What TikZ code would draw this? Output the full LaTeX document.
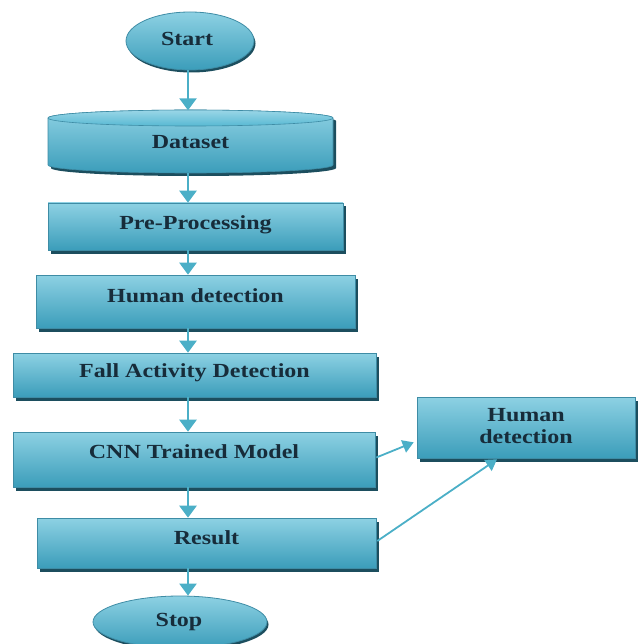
\documentclass[tikz,border=0pt]{standalone}
\usepackage{fontspec}
\setmainfont{Liberation Serif}[FakeStretch=1.2]
\usetikzlibrary{arrows.meta,shapes.geometric,shadows,calc}
\definecolor{arrowc}{HTML}{4BAFC7}
\definecolor{boxtop}{HTML}{8DD1E3}
\definecolor{boxmid}{HTML}{58B9D3}
\definecolor{boxbot}{HTML}{3B9DBA}
\definecolor{edgec}{HTML}{3E8CA5}
\definecolor{shadowc}{HTML}{1C4E5E}
\definecolor{textc}{HTML}{172C3A}
\definecolor{captop}{HTML}{9AD6E7}
\begin{document}
\begin{tikzpicture}[x=1pt,y=-1pt,
  box/.style={rectangle, draw=edgec, line width=0.6pt, top color=boxtop, middle color=boxmid, bottom color=boxbot,
    general shadow={fill=shadowc, shadow xshift=3pt, shadow yshift=-3.5pt}, inner sep=0pt},
  oval/.style={ellipse, draw=edgec, line width=0.8pt, top color=boxtop, middle color=boxmid, bottom color=boxbot,
    general shadow={fill=shadowc, shadow xshift=1.5pt, shadow yshift=-2.5pt}, inner sep=0pt},
  txt/.style={font=\bfseries\fontsize{20}{22}\selectfont, text=textc, align=center},
  arr/.style={draw=arrowc, line width=2.5pt, -{Triangle[length=12pt,width=17pt]}},
  sarr/.style={draw=arrowc, line width=1.8pt, -{Triangle[length=11pt,width=13pt]}},
]
\useasboundingbox (0,0) rectangle (638,644);
\coordinate (col) at (188,0);

% Start
\node[oval, minimum width=128pt, minimum height=58pt] (start) at (190,41) {};
\node[txt] (tstart) at (187,39) {Start};

% Dataset (flat cylinder)
\fill[shadowc] (51,121) -- (51,168) arc[start angle=180,end angle=360,x radius=142.5pt,y radius=8pt]
  -- (336,121) arc[start angle=0,end angle=180,x radius=142.5pt,y radius=8pt] -- cycle;
\shade[draw=edgec, line width=0.6pt, top color=boxtop, middle color=boxmid, bottom color=boxbot]
  (48,118) -- (48,165) arc[start angle=180,end angle=360,x radius=142.5pt,y radius=8pt]
  -- (333,118) arc[start angle=0,end angle=180,x radius=142.5pt,y radius=8pt] -- cycle;
\shade[draw=edgec, line width=0.6pt, top color=captop, bottom color=boxmid]
  (190.5,118) ellipse[x radius=142.5pt, y radius=8pt];
\node[txt, minimum width=285pt, minimum height=63pt, inner sep=0pt] (ds) at (190.5,142) {Dataset};

% Boxes
\node[box, minimum width=295pt, minimum height=47pt] (pre) at (195.5,226.5) {};
\node[txt] (tpre) at (195.5,225) {Pre-Processing};

\node[box, minimum width=319pt, minimum height=53pt] (hum) at (195.5,301.5) {};
\node[txt] (thum) at (195.5,296) {Human detection};

\node[box, minimum width=363pt, minimum height=44pt] (fall) at (194.5,375) {};
\node[txt] (tfall) at (194.5,373) {Fall Activity Detection};

\node[box, minimum width=362pt, minimum height=55pt] (cnn) at (194,459.5) {};
\node[txt] (tcnn) at (194,452) {CNN Trained Model};

\node[box, minimum width=339pt, minimum height=50pt] (res) at (206.5,543) {};
\node[txt] (tres) at (206.5,538) {Result};

\node[box, minimum width=218pt, minimum height=61pt] (hd) at (526,427.5) {};
\node[txt] (thd) at (526,426) {Human\\detection};

% Stop
\node[oval, minimum width=174pt, minimum height=52pt] (stop) at (180,622) {};
\node[txt] (tstop) at (179,622) {Stop};

% Vertical arrows
\draw[arr] (start.south -| col) -- (ds.north -| col);
\draw[arr] ($(ds.south -| col)+(0,-1)$) -- (pre.north -| col);
\draw[arr] (pre.south -| col) -- (hum.north -| col);
\draw[arr] (hum.south -| col) -- (fall.north -| col);
\draw[arr] (fall.south -| col) -- (cnn.north -| col);
\draw[arr] (cnn.south -| col) -- (res.north -| col);
\draw[arr] (res.south -| col) -- (stop.north -| col);

% Side arrows
\coordinate (t1) at ($(hd.south west)+(-3,-16)$);
\coordinate (t2) at ($(hd.south)+(-29,1)$);
\draw[sarr] ($(cnn.east)+(1,-2)$) -- (t1);
\draw[sarr] ($(res.east)+(1,-2)$) -- (t2);
\end{tikzpicture}
\end{document}
